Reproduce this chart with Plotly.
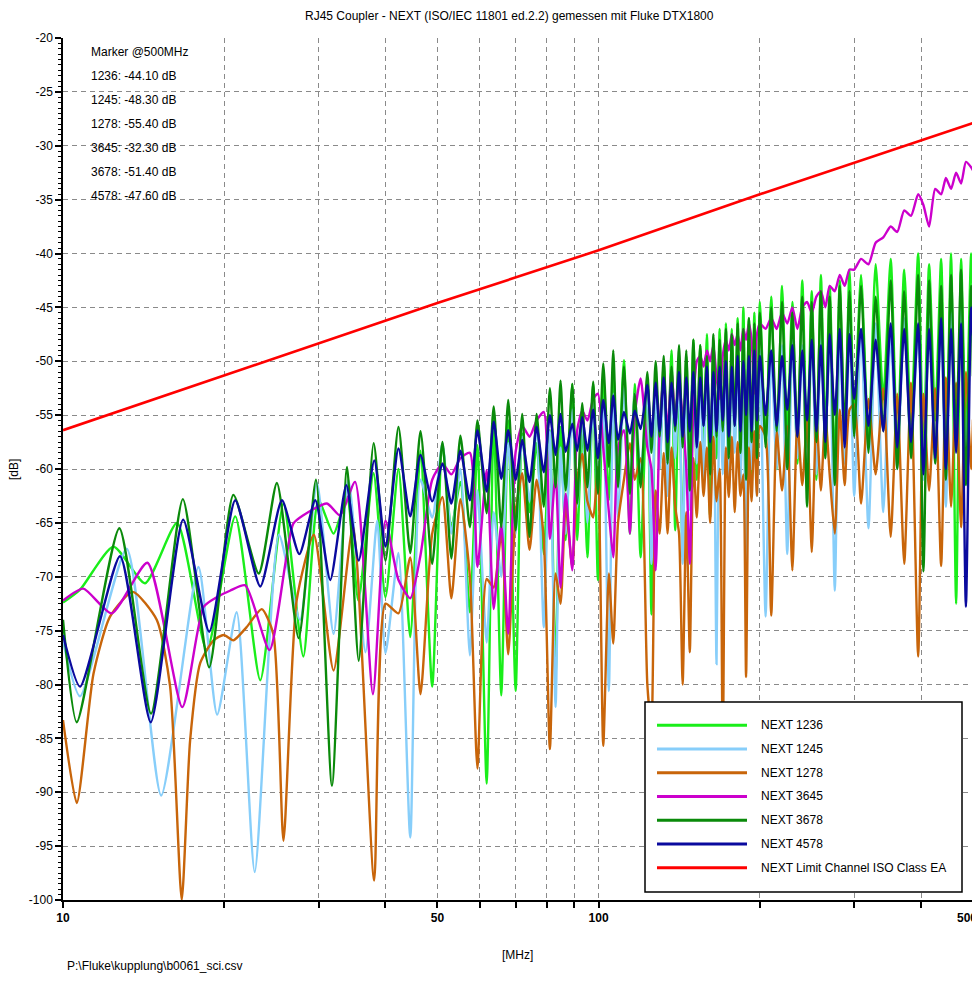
import math
import plotly.graph_objects as go

# ---------------- data ----------------
# shared frequency grid for the dense part (MHz)
f_hi = [40.0, 42.3, 44.5, 46.5, 48.9, 51.1, 53.1, 55.2, 57.5, 59.4, 61.8, 63.7, 65.8, 67.8, 70.0,
        72.0, 74.3, 76.6, 79.0, 81.1, 83.1, 84.9, 86.8, 89.3, 91.2, 93.2, 95.3, 97.7, 99.7, 102.0,
        104.5, 106.5, 108.7, 111.5, 114.4, 116.8, 119.8, 123.3,
        125.5, 127.8, 130.0, 132.3, 134.5, 136.8, 139.0, 141.3, 143.5, 145.8, 148.0, 150.3, 152.5,
        154.8, 157.0, 159.3, 161.5, 163.8, 166.0, 168.3, 170.5, 172.8, 175.0, 177.3, 179.5, 181.8,
        184.0, 186.3, 188.5, 190.8, 193.0, 195.3, 197.5, 200.0,
        205, 210, 215, 220, 225, 230, 235, 240, 245, 250, 255, 260, 265, 270, 276, 282, 288, 294,
        300, 309, 319, 329, 340, 351, 361, 372, 383, 395, 404, 414, 425, 436, 445, 455, 465, 475,
        485, 496, 500]

# NEXT 1236
f_lo_1236 = [10.0, 10.76, 12.42, 14.23, 16.33, 18.55, 20.97, 23.35, 25.8, 28.1, 29.98, 32.0, 33.9, 35.6, 38.0]
db_lo_1236 = [-72.4, -71.2, -67.2, -70.6, -65.0, -76.8, -64.4, -79.6, -63.2, -77.4, -62.9, -66.0, -62.6, -72.2, -60.4]
db_hi_1236 = [-71.9, -60.0, -75.6, -58.3, -80.2, -57.8, -65.4, -61.2, -73.3, -57.8, -89.2, -55.5, -81.0, -55.5, -80.6,
              -56.7, -64.0, -57.6, -67.9, -56.4, -79.2, -56.1, -66.6, -52.1, -66.6, -55.8, -68.2, -52.1, -70.3, -51.8,
              -62.9, -51.0, -60.5, -49.9, -66.0, -52.1, -68.2, -51.5,
              -73.5, -51.5, -60.0, -50.0, -58.5, -49.0, -65.7, -50.5, -68.2, -49.5, -59.0, -48.0, -61.0, -48.5,
              -57.5, -47.5, -64.5, -48.0, -59.0, -47.0, -58.0, -46.5, -61.5, -47.0, -57.5, -46.0, -60.5, -45.0,
              -58.5, -46.0, -62.0, -45.5, -59.5, -44.5,
              -57.5, -44.0, -60.0, -43.0, -56.5, -44.5, -59.5, -42.5, -58.0, -43.5, -61.0, -42.0, -57.0, -43.0,
              -59.5, -42.5, -58.5, -41.5,
              -55.0, -42.0, -57.5, -41.0, -53.5, -40.5, -58.0, -41.5, -56.0, -40.0, -59.0, -41.0, -55.5, -40.5,
              -60.0, -40.0, -72.5, -40.5, -57.0, -40.0, -44.1]

# NEXT 1245
f_lo_1245 = [10.0, 10.76, 13.15, 15.25, 17.9, 19.4, 21.1, 22.8, 25.3, 27.7, 29.8, 32.0, 34.1, 36.7, 38.6]
db_lo_1245 = [-76.0, -81.1, -67.4, -90.3, -69.1, -82.8, -73.3, -97.4, -66.1, -74.0, -61.3, -75.3, -61.0, -77.0, -64.8]
db_hi_1245 = [-77.1, -67.8, -94.2, -61.0, -64.5, -57.6, -66.0, -60.0, -77.3, -62.0, -76.1, -64.0, -70.0, -57.6, -66.0,
              -57.0, -63.0, -56.0, -74.7, -56.5, -82.1, -58.0, -66.0, -54.5, -63.5, -55.0, -65.0, -53.5, -62.0, -54.0,
              -80.6, -53.0, -64.5, -52.5, -62.0, -53.0, -60.5, -52.5,
              -68.8, -52.0, -60.0, -51.5, -62.5, -52.0, -59.0, -51.0, -68.8, -51.5, -63.8, -50.5, -59.5, -51.5,
              -61.0, -50.0, -58.5, -50.5, -78.1, -50.0, -60.5, -49.5, -62.0, -50.0, -58.5, -49.5, -61.5, -49.0,
              -73.0, -49.5, -60.0, -48.5, -62.5, -49.0,
              -73.7, -49.0, -60.0, -48.5, -67.9, -48.0, -59.0, -48.5, -62.0, -47.5, -60.5, -48.0, -58.0, -47.0,
              -71.3, -47.5, -59.5, -46.5,
              -62.5, -47.0, -65.5, -46.5, -64.0, -47.5, -60.0, -46.0, -58.5, -46.5, -61.0, -45.5, -59.5, -46.0,
              -63.5, -45.5, -58.0, -45.0, -60.5, -45.5, -48.3]

# NEXT 1278
f_lo_1278 = [10.0, 10.61, 11.4, 12.24, 13.5, 14.96, 15.85, 16.66, 17.27, 18.04, 19.1, 19.96, 20.8, 22.0,
             23.5, 24.7, 25.8, 27.3, 29.4, 32.0, 34.8, 38.1]
db_lo_1278 = [-83.3, -91.0, -79.0, -73.7, -71.4, -74.0, -80.2, -100.0, -85.2, -78.0, -75.9, -75.4, -75.9, -74.7,
              -73.0, -75.3, -94.5, -72.2, -66.1, -78.7, -65.3, -98.2]
db_hi_1278 = [-72.5, -73.4, -68.2, -80.9, -66.0, -62.6, -72.0, -62.8, -70.0, -87.8, -70.2, -71.0, -66.0, -77.2, -64.0,
              -60.4, -67.5, -61.0, -66.5, -86.0, -69.7, -72.5, -63.4, -69.1, -61.0, -58.6, -63.0, -64.5, -59.8, -85.7,
              -69.7, -76.2, -65.0, -61.0, -57.6, -61.0, -59.0, -80.0,
              -84.0, -62.0, -66.0, -58.5, -66.0, -58.0, -63.5, -66.0, -80.0, -64.0, -77.0, -59.0, -64.5, -57.5,
              -62.5, -58.0, -65.0, -57.0, -63.0, -60.0, -87.0, -58.0, -62.6, -57.0, -64.0, -57.5, -62.5, -60.5,
              -79.3, -58.0, -63.0, -56.5, -62.5, -56.0,
              -57.0, -73.6, -56.5, -62.0, -56.0, -69.4, -55.5, -61.5, -55.5, -67.7, -55.0, -62.0, -55.0, -60.5,
              -66.0, -54.5, -61.5, -54.5,
              -54.0, -63.2, -53.5, -60.5, -52.5, -66.3, -53.0, -68.8, -52.0, -77.4, -53.0, -62.0, -52.5, -69.0,
              -51.5, -63.5, -52.0, -65.4, -51.0, -60.0, -55.4]

# NEXT 3645
f_lo_3645 = [10.0, 10.91, 12.33, 14.37, 16.7, 18.3, 19.37, 20.5, 21.9, 24.3, 26.9, 28.1, 31.1, 32.9, 35.1, 37.9]
db_lo_3645 = [-72.2, -71.1, -73.4, -68.7, -82.1, -72.8, -71.9, -71.3, -70.8, -76.8, -65.1, -64.3, -63.2, -64.3, -61.2, -80.9]
db_hi_3645 = [-64.8, -70.3, -72.0, -68.0, -61.0, -59.5, -60.5, -59.0, -58.5, -69.1, -60.1, -73.0, -65.1, -75.3, -58.4,
              -56.0, -57.0, -55.5, -54.7, -66.5, -60.4, -71.0, -62.3, -69.4, -56.4, -54.6, -55.5, -53.5, -53.0, -58.0,
              -64.0, -68.2, -58.0, -56.4, -66.0, -55.0, -51.6, -58.0,
              -60.0, -69.4, -56.0, -51.5, -56.5, -51.0, -55.0, -52.0, -55.2, -60.0, -68.8, -54.0, -50.0, -49.5,
              -50.5, -49.0, -50.0, -48.5, -51.5, -53.5, -49.5, -48.0, -49.0, -47.5, -48.5, -47.5, -49.0, -47.0,
              -48.0, -46.5, -48.0, -53.0, -47.5, -46.5,
              -47.0, -46.0, -47.0, -45.5, -46.5, -45.0, -47.0, -45.0, -44.5, -45.5, -44.0, -43.5, -45.0, -43.0,
              -43.5, -42.0, -43.0, -41.5,
              -41.5, -40.5, -41.0, -39.0, -38.5, -37.5, -38.0, -36.0, -36.5, -34.5, -35.5, -37.5, -34.0, -34.5,
              -33.0, -34.0, -32.5, -33.5, -31.5, -32.0, -32.3]

# NEXT 3678
f_lo_3678 = [10.0, 10.61, 12.74, 14.6, 16.74, 18.75, 20.8, 23.2, 25.08, 27.54, 29.67, 31.78, 33.91, 35.65, 38.02]
db_lo_3678 = [-74.0, -83.5, -65.5, -82.7, -62.8, -78.4, -62.4, -69.7, -61.3, -75.7, -61.0, -89.4, -59.8, -77.8, -57.6]
db_hi_3678 = [-68.5, -56.1, -67.8, -56.5, -68.8, -57.5, -68.3, -56.9, -65.4, -55.5, -64.1, -54.2, -65.4, -53.6, -65.7,
              -54.9, -66.3, -54.9, -63.5, -52.5, -61.7, -51.8, -62.0, -52.1, -63.2, -53.9, -61.7, -51.9, -62.3, -50.2,
              -59.8, -49.0, -61.7, -50.5, -62.3, -53.0, -61.7, -51.0,
              -58.5, -50.0, -57.0, -49.5, -59.5, -50.5, -56.5, -48.5, -58.0, -49.0, -62.0, -48.0, -57.5, -48.5,
              -56.0, -49.5, -60.5, -47.5, -57.0, -48.0, -56.5, -47.0, -59.0, -47.5, -56.0, -46.5, -58.5, -47.0,
              -61.0, -46.0, -57.5, -46.5, -59.0, -45.5,
              -58.0, -45.0, -56.5, -44.5, -60.0, -45.5, -57.0, -44.0, -63.5, -44.5, -57.5, -43.5, -59.0, -44.0,
              -61.5, -43.0, -56.5, -43.5,
              -57.0, -43.0, -58.5, -44.0, -56.5, -42.5, -60.0, -43.5, -59.0, -42.0, -69.5, -42.5, -59.5, -43.0,
              -61.0, -42.0, -57.5, -41.5, -61.5, -43.0, -51.4]

# NEXT 4578
f_lo_4578 = [10.0, 10.76, 12.78, 14.58, 16.76, 18.75, 20.97, 23.35, 25.63, 27.62, 29.58, 31.55, 33.8, 35.65, 38.13]
db_lo_4578 = [-75.4, -80.2, -68.1, -83.5, -64.7, -75.1, -62.9, -70.9, -62.9, -67.9, -62.9, -70.3, -61.5, -68.5, -59.2]
db_hi_4578 = [-67.2, -58.1, -64.4, -58.7, -63.0, -59.5, -63.2, -58.3, -62.9, -56.4, -62.1, -55.6, -60.9, -56.4, -61.0,
              -57.3, -61.2, -56.1, -60.3, -55.0, -58.7, -54.9, -58.4, -55.8, -58.3, -55.2, -58.3, -54.5, -59.0, -53.6,
              -57.6, -53.2, -57.3, -54.7, -56.7, -54.6, -56.3, -52.2,
              -57.0, -52.0, -56.5, -51.5, -57.5, -52.0, -56.0, -51.0, -57.0, -51.5, -56.5, -51.0, -58.0, -51.5,
              -56.0, -50.5, -57.5, -51.0, -56.5, -50.5, -55.5, -50.0, -57.0, -50.5, -56.0, -49.5, -56.5, -50.0,
              -55.0, -49.5, -56.5, -49.0, -55.5, -49.5,
              -55.0, -49.0, -56.0, -49.5, -54.5, -48.5, -57.0, -49.0, -55.5, -48.0, -56.5, -48.5, -57.5, -47.5,
              -55.0, -47.0, -58.0, -47.5,
              -53.5, -47.0, -56.0, -48.0, -56.5, -46.5, -58.0, -47.0, -57.5, -46.5, -60.5, -47.0, -59.0, -46.0,
              -60.0, -47.0, -58.5, -46.5, -72.8, -45.0, -47.6]

# NEXT limit channel ISO class EA
limit_f = [10, 20, 50, 100, 200, 500]
limit_db = [-56.4, -51.3, -44.6, -39.7, -34.5, -27.9]

series_names = ["NEXT 1236", "NEXT 1245", "NEXT 1278", "NEXT 3645", "NEXT 3678", "NEXT 4578"]
series_colors = ["#1aee1a", "#87cefa", "#c8650a", "#cc00cc", "#0a8a0a", "#0a0a9e"]
limit_name = "NEXT Limit Channel ISO Class EA"
limit_color = "#ff0000"

marker_codes = ["1236", "1245", "1278", "3645", "3678", "4578"]
marker_db = [-44.10, -48.30, -55.40, -32.30, -51.40, -47.60]

x_tick_vals = [10, 20, 30, 40, 50, 60, 70, 80, 90, 100, 200, 300, 400, 500]
x_tick_labeled = [10, 50, 100]      # 500 is written right-aligned at the edge
x_edge_label = 500
y_tick_vals = list(range(-100, -15, 5))

# ---------------- figure ----------------
# the page body has an 8 px margin, so the figure sits 8 px right/down on the page;
# the figure is sized so that the page does not overflow the 980x982 window
OFF = 8
W, H = 980 - OFF, 982 - 2 * OFF
PX0, PX1, PY0, PY1 = 63, 973, 38, 900          # plot area in page pixels
L, T = PX0 - OFF, PY0 - OFF
R, B = W - (PX1 - OFF), H - (PY1 - OFF)
FONT = "Liberation Sans, Arial, Helvetica, sans-serif"


def px(xp):
    return (xp - PX0) / (PX1 - PX0)


def py(yp):
    return (PY1 - yp) / (PY1 - PY0)


los = [(f_lo_1236, db_lo_1236, db_hi_1236), (f_lo_1245, db_lo_1245, db_hi_1245),
       (f_lo_1278, db_lo_1278, db_hi_1278), (f_lo_3645, db_lo_3645, db_hi_3645),
       (f_lo_3678, db_lo_3678, db_hi_3678), (f_lo_4578, db_lo_4578, db_hi_4578)]

fig = go.Figure()
for name, color, (flo, dlo, dhi) in zip(series_names, series_colors, los):
    fig.add_trace(go.Scatter(x=flo + f_hi, y=dlo + dhi, mode="lines", name=name,
                             line=dict(color=color, width=2.4, shape="spline", smoothing=0.6),
                             showlegend=False))
fig.add_trace(go.Scatter(x=limit_f, y=limit_db, mode="lines", name=limit_name,
                         line=dict(color=limit_color, width=2.6), showlegend=False))

grid = dict(showgrid=True, gridcolor="#8a8a8a", gridwidth=1, griddash="5px,4px")

fig.update_layout(
    width=W, height=H, autosize=False,
    margin=dict(l=L, r=R, t=T, b=B),
    paper_bgcolor="white", plot_bgcolor="white",
    font=dict(family=FONT, size=12, color="black"),
    showlegend=False,
    xaxis=dict(type="log", range=[1, math.log10(500)],
               tickmode="array", tickvals=x_tick_vals,
               ticktext=[("<b>%d</b>" % v) if v in x_tick_labeled else "" for v in x_tick_vals],
               ticks="outside", ticklen=6, tickwidth=1.5, tickcolor="black",
               showline=True, linecolor="black", linewidth=2,
               zeroline=False, automargin=False, tickfont=dict(size=12, family=FONT),
               **grid),
    yaxis=dict(range=[-100, -20], tickmode="array", tickvals=y_tick_vals,
               ticktext=[str(v) for v in y_tick_vals],
               ticks="outside", ticklen=6, tickwidth=1.5, tickcolor="black",
               minor=dict(tickmode="array", tickvals=[v / 2 for v in range(-200, -39)],
                          ticks="outside", ticklen=3, tickwidth=1, tickcolor="black", showgrid=False),
               showline=True, linecolor="black", linewidth=1.5,
               zeroline=False, automargin=False, tickfont=dict(size=12, family=FONT),
               **grid),
)

ann = []
ann.append(dict(text="<b>%d</b>" % x_edge_label, x=px(979), y=py(918), xref="paper", yref="paper",
                xanchor="right", yanchor="middle", showarrow=False, font=dict(size=12)))
ann.append(dict(text="RJ45 Coupler - NEXT (ISO/IEC 11801 ed.2.2) gemessen mit Fluke DTX1800",
                x=px(509), y=py(16), xref="paper", yref="paper", xanchor="center", yanchor="middle",
                showarrow=False, font=dict(size=12)))
ann.append(dict(text="[dB]", x=px(14), y=py(470), xref="paper", yref="paper", textangle=-90,
                xanchor="center", yanchor="middle", showarrow=False, font=dict(size=12)))
ann.append(dict(text="[MHz]", x=px(517), y=py(955), xref="paper", yref="paper",
                xanchor="center", yanchor="middle", showarrow=False, font=dict(size=12)))
ann.append(dict(text=r"P:\Fluke\kupplung\b0061_sci.csv", x=px(65), y=py(966), xref="paper", yref="paper",
                xanchor="left", yanchor="middle", showarrow=False, font=dict(size=12)))

marker_lines = ["Marker @500MHz"] + ["%s: %.2f dB" % (c, v) for c, v in zip(marker_codes, marker_db)]
for i, t in enumerate(marker_lines):
    ann.append(dict(text=t, x=px(89), y=py(51.5 + 24.1 * i), xref="paper", yref="paper",
                    xanchor="left", yanchor="middle", showarrow=False, font=dict(size=12)))

# legend (drawn box)
shapes = [dict(type="rect", xref="paper", yref="paper", x0=px(645), x1=px(962), y0=py(892), y1=py(702),
               line=dict(color="black", width=1.5), fillcolor="white", layer="above")]
leg_names = series_names + [limit_name]
leg_colors = series_colors + [limit_color]
for i, (n, c) in enumerate(zip(leg_names, leg_colors)):
    yy = 725.2 + 23.75 * i
    shapes.append(dict(type="line", xref="paper", yref="paper", x0=px(657), x1=px(747), y0=py(yy), y1=py(yy),
                       line=dict(color=c, width=3), layer="above"))
    ann.append(dict(text=n, x=px(759), y=py(yy), xref="paper", yref="paper", xanchor="left",
                    yanchor="middle", showarrow=False, font=dict(size=12)))

fig.update_layout(annotations=ann, shapes=shapes)
fig.write_html("out.html")
